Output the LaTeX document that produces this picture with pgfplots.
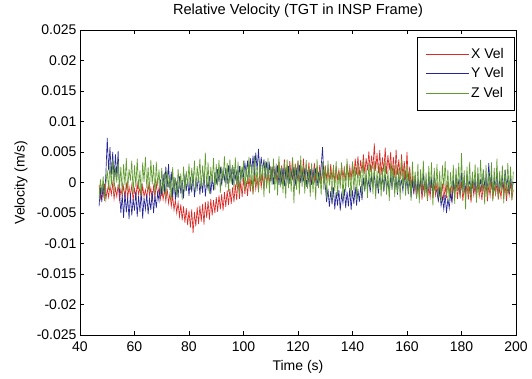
\documentclass[border=0pt]{standalone}
\usepackage{pgfplots}
\pgfplotsset{compat=1.18}
\usepackage{fontspec}
\setmainfont{Liberation Sans}
\definecolor{mred}{RGB}{222,42,38}
\definecolor{mblue}{RGB}{38,38,150}
\definecolor{mgreen}{RGB}{95,155,45}
\begin{document}
\begin{tikzpicture}
\begin{axis}[
  at={(0,0)}, anchor=south west,
  scale only axis, width=436pt, height=305pt,
  xmin=40, xmax=200, ymin=-25, ymax=25,
  xtick={40,60,...,200},
  ytick={-25,-20,...,25},
  yticklabels={-0.025,-0.02,-0.015,-0.01,-0.005,0,0.005,0.01,0.015,0.02,0.025},
  /pgf/number format/assume math mode=true,
  tick label style={font=\fontsize{14}{16}\selectfont},
  xticklabel style={yshift=-3pt},
  xlabel style={font=\fontsize{14}{16}\selectfont, at={(axis description cs:0.5,0)}, anchor=base, yshift=-35pt},
  ylabel style={font=\fontsize{14}{16}\selectfont, at={(axis description cs:-0.1353,0.5)}, anchor=center},
  title style={font=\fontsize{14.6}{17}\selectfont, at={(axis description cs:0.5,1)}, anchor=base, yshift=10pt},
  title={Relative Velocity (TGT in INSP Frame)},
  xlabel={Time (s)}, ylabel={Velocity (m/s)},
  major tick length=4pt,
  tick style={black, thin},
  axis line style={black, thin},
  legend style={at={(1,1)}, anchor=north east, xshift=-2pt, yshift=-7pt,
    font=\fontsize{14}{16}\selectfont, cells={anchor=west},
    row sep=4pt, inner xsep=8pt, inner ysep=9pt},
  legend image code/.code={\draw[#1, line width=0.8pt] (0pt,0pt) -- (43pt,0pt);},
  every axis plot/.append style={line width=0.65pt},
]
\addplot[draw=mred] coordinates {
(47,-0.4)(47.5,-2.6)(48,-0.8)(48.5,-2.2)(49,-0.2)(49.5,-2.8)(50,-1.0)(50.5,-2.4)(51,-0.5)(51.5,-2.0)
(52,-0.1)(52.5,-2.7)(53,-0.9)(53.5,-2.3)(54,-0.3)(54.5,-2.9)(55,-1.1)(55.5,-2.1)(56,-0.6)(56.5,-2.5)
(57,0.0)(57.5,-2.6)(58,-0.7)(58.5,-2.2)(59,-0.4)(59.5,-3.0)(60,-1.0)(60.5,-2.4)(61,-0.2)(61.5,-2.0)
(62,-0.8)(62.5,-2.8)(63,-0.5)(63.5,-2.3)(64,-1.2)(64.5,-2.6)(65,-0.3)(65.5,-2.1)(66,-0.9)(66.5,-2.9)
(67,-0.6)(67.5,-2.4)(68,-0.1)(68.5,-2.2)(69,-0.8)(69.5,-2.7)
(70,-0.9)(70.5,-2.8)(71,-1.2)(71.5,-3.1)(72,-1.0)(72.5,-3.4)(73,-1.8)(73.5,-3.9)(74,-2.2)(74.5,-4.5)
(75,-2.9)(75.5,-5.0)(76,-3.3)(76.5,-5.6)(77,-3.6)(77.5,-6.2)(78,-3.9)(78.5,-6.6)(79,-4.2)(79.5,-7.0)
(80,-4.6)(80.5,-7.4)(81,-4.4)(81.5,-8.3)(82,-4.8)(82.5,-7.2)(83,-4.1)(83.5,-6.8)(84,-3.8)(84.5,-6.4)
(85,-3.5)(85.5,-6.9)(86,-3.2)(86.5,-5.8)(87,-3.0)(87.5,-6.1)(88,-2.7)(88.5,-5.4)(89,-2.9)(89.5,-5.0)
(90,-2.4)(90.5,-4.8)(91,-2.1)(91.5,-4.4)(92,-1.9)(92.5,-4.6)(93,-1.6)(93.5,-4.0)(94,-1.3)(94.5,-3.7)
(95,-1.0)(95.5,-3.5)(96,-0.8)(96.5,-3.2)(97,-0.3)(97.5,-2.9)
(98,0.6)(98.5,-2.7)(99,0.2)(99.5,-2.4)(100,0.8)(100.5,-1.9)(101,0.3)(101.5,-2.2)(102,1.0)(102.5,-1.5)
(103,0.5)(103.5,-1.8)(104,1.3)(104.5,-1.1)(105,0.7)(105.5,-1.4)(106,1.6)(106.5,-0.8)(107,1.2)(107.5,-1.0)
(108,1.9)(108.5,-0.5)(109,1.4)(109.5,-0.2)
(110,2.5)(110.5,0.2)(111,3.0)(111.5,0.5)(112,2.6)(112.5,-0.2)(113,3.4)(113.5,0.4)(114,2.8)(114.5,0.0)
(115,3.8)(115.5,0.6)(116,2.9)(116.5,0.3)(117,3.5)(117.5,0.8)(118,4.0)(118.5,0.1)(119,3.1)(119.5,0.5)
(120,3.6)(120.5,-0.3)(121,2.7)(121.5,0.7)(122,3.9)(122.5,0.2)(123,3.0)(123.5,0.6)(124,3.3)(124.5,-0.1)
(125,2.5)(125.5,0.4)(126,3.2)(126.5,0.0)(127,2.4)(127.5,0.5)(128,2.9)(128.5,-0.2)(129,2.2)(129.5,0.3)
(130,2.8)(130.5,0.6)(131,2.3)(131.5,0.1)(132,3.0)(132.5,0.4)(133,2.5)(133.5,-0.1)(134,2.7)(134.5,0.5)
(135,2.1)(135.5,0.2)(136,2.9)(136.5,0.7)(137,2.4)(137.5,0.3)(138,3.1)(138.5,0.8)(139,2.6)(139.5,0.4)
(140,3.4)(140.5,1.0)(141,3.9)(141.5,1.3)(142,4.3)(142.5,1.1)(143,3.7)(143.5,1.6)(144,4.6)(144.5,1.4)
(145,4.0)(145.5,2.0)(146,5.1)(146.5,1.7)(147,4.4)(147.5,2.2)(148,6.4)(148.5,1.9)(149,4.8)(149.5,1.5)
(150,5.3)(150.5,1.2)(151,4.1)(151.5,1.8)(152,5.7)(152.5,1.4)(153,4.5)(153.5,2.0)(154,5.0)(154.5,1.0)
(155,4.2)(155.5,0.8)(156,5.4)(156.5,1.3)(157,3.8)(157.5,0.6)(158,4.6)(158.5,0.9)(159,3.5)(159.5,0.4)
(160,5.0)(160.5,0.2)(161,2.6)(161.5,-0.6)
(162,1.0)(162.5,-1.8)(163,0.3)(163.5,-2.5)(164,-0.2)(164.5,-2.2)(165,0.4)(165.5,-2.8)(166,-0.5)(166.5,-2.0)
(167,0.1)(167.5,-3.0)(168,-0.7)(168.5,-2.4)(169,0.3)(169.5,-2.6)(170,-0.4)(170.5,-2.1)(171,0.0)(171.5,-3.1)
(172,-0.8)(172.5,-2.3)(173,-0.2)(173.5,-2.9)(174,-0.6)(174.5,-2.5)(175,0.2)(175.5,-2.0)(176,-0.9)(176.5,-3.2)
(177,-0.3)(177.5,-2.4)(178,0.4)(178.5,-2.7)(179,-0.5)(179.5,-2.2)(180,0.1)(180.5,-3.0)(181,-0.7)(181.5,-2.5)
(182,-0.1)(182.5,-2.8)(183,-0.6)(183.5,-3.3)(184,0.2)(184.5,-2.1)(185,-0.4)(185.5,-2.6)(186,0.3)(186.5,-2.3)
(187,-0.8)(187.5,-2.9)(188,-0.2)(188.5,-2.4)(189,0.0)(189.5,-3.1)(190,-0.5)(190.5,-2.2)(191,0.2)(191.5,-2.7)
(192,-0.6)(192.5,-2.0)(193,-0.1)(193.5,-2.8)(194,-0.9)(194.5,-2.5)(195,0.1)(195.5,-2.3)(196,-0.4)(196.5,-3.0)
(197,-0.7)(197.5,-2.1)(198,0.0)(198.5,-2.6)(199,-1.2)
};
\addlegendentry{X Vel}
\addplot[draw=mblue] coordinates {
(47,-3.9)(47.5,-0.8)(48,-3.2)(48.5,-0.2)(49,-2.8)(49.5,1.5)
(50,7.3)(50.5,2.0)(51,5.8)(51.5,1.2)(52,5.0)(52.5,0.6)(53,4.6)(53.5,1.0)(54,5.2)(54.5,-1.5)
(55,-5.0)(55.5,-2.0)(56,-5.8)(56.5,-1.6)(57,-4.9)(57.5,-2.4)(58,-6.0)(58.5,-1.8)(59,-5.4)(59.5,-2.7)
(60,-4.6)(60.5,-1.5)(61,-5.6)(61.5,-2.2)(62,-4.8)(62.5,-1.2)(63,-5.9)(63.5,-2.5)(64,-4.4)(64.5,-1.9)
(65,-5.2)(65.5,-2.6)(66,-4.5)(66.5,-1.4)(67,-5.0)(67.5,-2.1)(68,-4.2)(68.5,-1.7)
(69,-3.0)(69.5,0.5)(70,-2.2)(70.5,1.4)(71,-1.5)(71.5,2.6)(72,-0.8)(72.5,3.0)(73,-1.2)(73.5,1.8)
(74,-2.4)(74.5,0.9)(75,-2.8)(75.5,0.2)
(76,-2.5)(76.5,1.0)(77,-1.8)(77.5,0.4)(78,-2.6)(78.5,1.3)(79,-1.4)(79.5,0.6)(80,-2.2)(80.5,0.9)
(81,-1.6)(81.5,1.5)(82,-2.4)(82.5,0.2)(83,-1.0)(83.5,1.2)(84,-2.0)(84.5,0.7)(85,-1.7)(85.5,1.6)
(86,-2.3)(86.5,0.3)(87,-1.1)(87.5,1.1)(88,-1.9)(88.5,0.8)(89,-1.3)(89.5,1.7)
(90,-0.3)(90.5,2.2)(91,0.1)(91.5,2.6)(92,-0.5)(92.5,1.9)(93,0.4)(93.5,2.4)(94,-0.2)(94.5,2.8)
(95,0.3)(95.5,2.0)(96,-0.4)(96.5,2.5)(97,0.6)(97.5,1.8)(98,0.0)(98.5,2.7)(99,0.5)(99.5,2.3)
(100,1.0)(100.5,3.2)(101,1.4)(101.5,3.6)(102,0.9)(102.5,4.0)(103,1.6)(103.5,4.4)(104,1.2)(104.5,4.9)
(105,2.0)(105.5,5.5)(106,1.5)(106.5,4.2)(107,1.8)(107.5,3.8)(108,0.8)(108.5,3.4)(109,1.2)(109.5,3.0)
(110,0.2)(110.5,2.6)(111,-0.3)(111.5,2.2)(112,0.5)(112.5,2.8)(113,-0.4)(113.5,1.9)(114,0.1)(114.5,2.4)
(115,-0.6)(115.5,2.0)(116,0.3)(116.5,2.7)(117,-0.2)(117.5,1.7)(118,0.6)(118.5,2.5)(119,-0.5)(119.5,2.1)
(120,0.2)(120.5,2.9)(121,-0.1)(121.5,1.8)(122,0.4)(122.5,2.3)(123,-0.7)(123.5,1.6)(124,0.0)(124.5,2.2)
(125,-0.4)(125.5,1.9)(126,0.3)(126.5,2.4)(127,-0.6)(127.5,1.5)(128,0.2)(128.5,2.6)
(129,5.8)(129.5,1.0)
(130,-0.5)(130.5,-3.2)(131,-1.0)(131.5,-4.0)(132,-1.4)(132.5,-3.6)(133,-0.8)(133.5,-4.4)(134,-1.6)(134.5,-3.8)
(135,-1.2)(135.5,-4.6)(136,-1.9)(136.5,-3.4)(137,-1.0)(137.5,-4.2)(138,-1.5)(138.5,-3.9)(139,-0.9)(139.5,-4.5)
(140,-1.3)(140.5,-3.5)(141,-0.7)(141.5,-3.8)(142,-1.1)(142.5,-3.2)(143,-0.6)(143.5,-2.9)
(144,0.8)(144.5,-1.4)(145,1.2)(145.5,-0.9)(146,0.5)(146.5,-1.6)(147,1.0)(147.5,-0.7)(148,1.5)(148.5,-1.2)
(149,0.4)(149.5,-1.8)(150,1.1)(150.5,-0.5)(151,0.7)(151.5,-1.5)(152,1.3)(152.5,-1.0)(153,0.2)(153.5,-1.7)
(154,0.9)(154.5,-0.8)(155,1.6)(155.5,-1.3)(156,0.6)(156.5,-2.0)(157,1.0)(157.5,-0.6)(158,0.3)(158.5,-1.4)
(159,1.4)(159.5,-0.9)(160,0.5)(160.5,-1.9)(161,0.8)(161.5,-2.4)(162,0.1)(162.5,-1.6)(163,1.2)(163.5,-2.6)
(164,0.4)(164.5,-1.1)(165,0.9)(165.5,-1.8)(166,1.5)(166.5,-0.7)(167,0.2)(167.5,-2.1)(168,1.1)(168.5,-1.3)
(169,0.6)(169.5,-1.9)(170,1.3)(170.5,-1.0)
(171,-1.6)(171.5,-3.0)(172,-1.2)(172.5,-3.8)(173,-2.4)(173.5,-4.4)(174,-2.0)(174.5,-5.0)(175,-2.6)(175.5,-4.2)
(176,-1.8)(176.5,-3.2)
(177,0.5)(177.5,-1.5)(178,1.2)(178.5,-0.8)(179,0.3)(179.5,-2.0)(180,1.6)(180.5,-1.1)(181,0.7)(181.5,-1.7)
(182,1.4)(182.5,-0.5)(183,0.2)(183.5,-1.9)(184,1.0)(184.5,-1.2)(185,0.6)(185.5,-2.2)(186,1.5)(186.5,-0.9)
(187,0.4)(187.5,-1.4)(188,2.0)(188.5,-0.6)(189,0.8)(189.5,-1.6)(190,3.2)(190.5,-0.3)(191,1.1)(191.5,-1.8)
(192,0.5)(192.5,-1.0)(193,1.7)(193.5,-2.0)(194,0.3)(194.5,-0.7)(195,1.3)(195.5,-1.5)(196,2.1)(196.5,-0.4)
(197,0.6)(197.5,-1.9)(198,1.2)(198.5,-1.1)(199,0.0)
};
\addlegendentry{Y Vel}
\addplot[draw=mgreen] coordinates {
(47,-2.6)(47.5,0.5)(48,-1.8)(48.5,1.0)(49,-3.0)(49.5,-0.2)
(50,2.0)(50.5,-1.2)(51,3.2)(51.5,-0.5)(52,3.8)(52.5,-1.6)(53,2.4)(53.5,0.0)(54,3.5)(54.5,-1.0)
(55,2.6)(55.5,-2.0)(56,3.0)(56.5,-0.4)(57,4.0)(57.5,-1.4)(58,2.2)(58.5,0.3)(59,3.6)(59.5,-1.8)
(60,2.8)(60.5,-0.7)(61,3.9)(61.5,-1.1)(62,2.0)(62.5,-2.2)(63,3.3)(63.5,0.1)(64,4.2)(64.5,-0.9)
(65,2.5)(65.5,-1.5)(66,3.7)(66.5,-0.3)(67,2.9)(67.5,-2.0)(68,3.4)(68.5,-0.6)(69,2.1)(69.5,-1.9)
(70,2.4)(70.5,-1.5)(71,1.6)(71.5,-2.6)(72,2.0)(72.5,-0.8)(73,1.2)(73.5,-3.0)(74,2.5)(74.5,-1.9)
(75,0.8)(75.5,-2.4)(76,2.2)(76.5,-1.0)(77,1.5)(77.5,-2.8)(78,2.6)(78.5,-1.4)(79,1.9)(79.5,-0.6)
(80,3.1)(80.5,-1.2)(81,2.4)(81.5,-0.4)(82,3.6)(82.5,-1.6)(83,2.7)(83.5,0.2)(84,3.9)(84.5,-1.0)
(85,2.8)(85.5,-0.6)(86,4.9)(86.5,-0.9)(87,3.3)(87.5,-1.8)(88,2.5)(88.5,0.0)(89,4.0)(89.5,-1.3)
(90,3.0)(90.5,-0.5)(91,3.7)(91.5,-1.7)(92,2.6)(92.5,0.4)(93,4.3)(93.5,-0.8)(94,3.2)(94.5,-1.5)
(95,3.8)(95.5,-0.2)(96,2.9)(96.5,-1.2)(97,4.1)(97.5,-0.7)(98,3.4)(98.5,-1.9)(99,2.7)(99.5,0.1)
(100,3.6)(100.5,-1.4)(101,2.8)(101.5,-0.3)(102,4.2)(102.5,-1.1)(103,3.0)(103.5,-2.0)(104,4.4)(104.5,-0.6)
(105,2.5)(105.5,-1.6)(106,3.8)(106.5,0.0)(107,2.9)(107.5,-2.4)(108,3.5)(108.5,-1.0)(109,4.0)(109.5,-1.8)
(110,2.7)(110.5,-0.4)(111,3.9)(111.5,-1.3)(112,3.1)(112.5,-2.1)(113,4.3)(113.5,-0.8)(114,2.6)(114.5,-1.7)
(115,3.4)(115.5,-2.6)(116,3.8)(116.5,-0.9)(117,2.9)(117.5,-1.5)(118,4.1)(118.5,-3.4)(119,3.0)(119.5,-1.2)
(120,3.6)(120.5,-2.0)(121,4.4)(121.5,-0.7)(122,2.8)(122.5,-1.8)(123,3.7)(123.5,-1.0)(124,2.5)(124.5,-2.3)
(125,3.2)(125.5,-1.6)(126,2.4)(126.5,-2.8)(127,3.8)(127.5,-0.9)(128,2.1)(128.5,-2.0)(129,3.4)(129.5,-1.2)
(130,2.7)(130.5,-2.6)(131,3.6)(131.5,-0.5)(132,2.0)(132.5,-3.1)(133,2.9)(133.5,-1.4)(134,3.5)(134.5,-2.2)
(135,1.8)(135.5,-1.0)(136,3.3)(136.5,-2.7)(137,2.5)(137.5,-1.6)(138,3.9)(138.5,-0.8)(139,2.2)(139.5,-2.4)
(140,3.4)(140.5,-1.3)(141,2.6)(141.5,-2.9)(142,3.1)(142.5,-0.6)(143,2.0)(143.5,-2.1)(144,3.7)(144.5,-1.5)
(145,2.3)(145.5,-2.5)(146,3.2)(146.5,-0.9)(147,2.8)(147.5,-1.9)(148,3.5)(148.5,-2.7)(149,1.9)(149.5,-1.1)
(150,3.0)(150.5,-2.3)(151,2.4)(151.5,-1.4)(152,3.6)(152.5,-2.0)(153,2.1)(153.5,-3.0)(154,3.3)(154.5,-1.2)
(155,2.6)(155.5,-2.4)(156,3.0)(156.5,-1.7)(157,2.2)(157.5,-2.8)(158,3.8)(158.5,-1.0)(159,2.5)(159.5,-2.2)
(160,2.9)(160.5,-1.8)(161,2.0)(161.5,-3.0)(162,3.4)(162.5,-1.1)(163,1.8)(163.5,-2.6)(164,3.1)(164.5,-3.4)
(165,2.2)(165.5,-1.5)(166,3.6)(166.5,-2.3)(167,1.6)(167.5,-2.9)(168,2.7)(168.5,-1.2)(169,3.3)(169.5,-3.8)
(170,2.4)(170.5,-1.6)(171,3.0)(171.5,-2.5)(172,1.9)(172.5,-3.2)(173,2.8)(173.5,-1.0)(174,3.5)(174.5,-2.2)
(175,2.1)(175.5,-3.0)(176,1.7)(176.5,-1.9)(177,2.9)(177.5,-3.5)(178,2.3)(178.5,-1.4)(179,3.2)(179.5,-2.6)
(180,4.8)(180.5,-1.8)(181,2.0)(181.5,-4.4)(182,2.6)(182.5,-2.0)(183,3.4)(183.5,-2.9)(184,1.8)(184.5,-1.3)
(185,3.0)(185.5,-3.3)(186,2.5)(186.5,-2.1)(187,3.7)(187.5,-1.5)(188,2.2)(188.5,-3.6)(189,2.9)(189.5,-2.4)
(190,1.6)(190.5,-1.7)(191,3.3)(191.5,-3.1)(192,2.4)(192.5,-2.0)(193,3.9)(193.5,-2.7)(194,1.9)(194.5,-1.4)
(195,2.8)(195.5,-3.4)(196,2.1)(196.5,-2.2)(197,3.2)(197.5,-1.6)(198,2.6)(198.5,-2.9)(199,1.8)
};
\addlegendentry{Z Vel}
\end{axis}
\pgfresetboundingbox
\path[use as bounding box] (-80pt,-43pt) rectangle (452pt,335pt);
\end{tikzpicture}
\end{document}
